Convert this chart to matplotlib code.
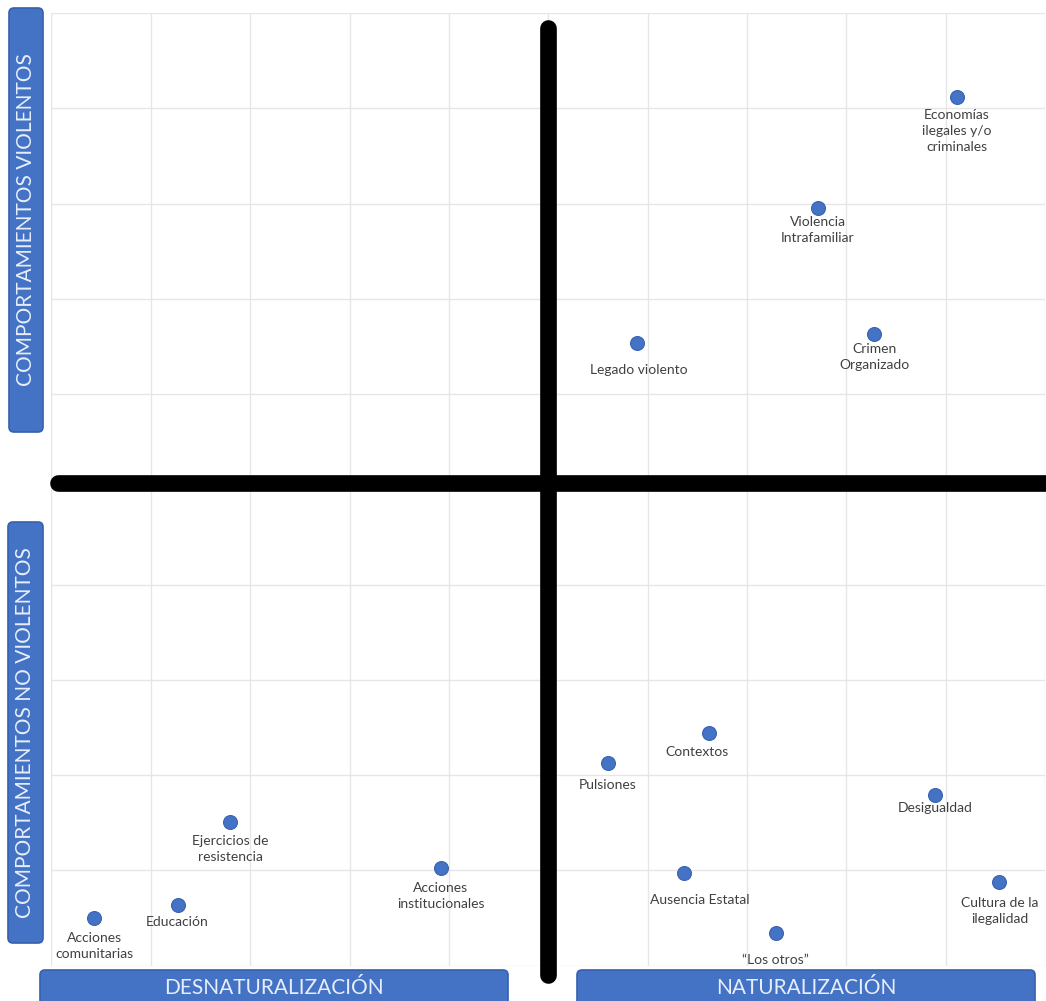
import matplotlib
matplotlib.use("Agg")
import matplotlib.pyplot as plt
from matplotlib.patches import FancyBboxPatch

# ---------------- data ----------------
labels = [
    "Economías\nilegales y/o\ncriminales",
    "Violencia\nIntrafamiliar",
    "Crimen\nOrganizado",
    "Legado violento",
    "Contextos",
    "Pulsiones",
    "Desigualdad",
    "Ausencia Estatal",
    "Cultura de la\nilegalidad",
    "\u201cLos otros\u201d",
    "Ejercicios de\nresistencia",
    "Acciones\ninstitucionales",
    "Educación",
    "Acciones\ncomunitarias",
]
x_values = [9.11, 7.71, 8.28, 5.89, 6.62, 5.60, 8.89, 6.37, 9.54, 7.29, 1.80, 3.92, 1.27, 0.43]
y_values = [9.12, 7.95, 6.63, 6.54, 2.44, 2.13, 1.79, 0.97, 0.88, 0.34, 1.51, 1.02, 0.64, 0.50]

axis_titles_y = ["COMPORTAMIENTOS VIOLENTOS", "COMPORTAMIENTOS NO VIOLENTOS"]
axis_titles_x = ["DESNATURALIZACIÓN", "NATURALIZACIÓN"]

# ---------------- layout / style ----------------
FONT = ["Lato", "DejaVu Sans"]
plt.rcParams["font.family"] = FONT

W, H = 1046, 1001
fig = plt.figure(figsize=(W / 100, H / 100), dpi=100)
fig.patch.set_facecolor("white")

ax = fig.add_axes([51.4 / W, (H - 965.5) / H, 993.7 / W, 952.5 / H])
ax.set_xlim(0, 10)
ax.set_ylim(0, 10)
ax.set_xticks(range(11))
ax.set_yticks(range(11))
ax.tick_params(length=0, labelbottom=False, labelleft=False)
ax.grid(True, color="#E6E6E6", lw=1.0)
ax.set_axisbelow(True)
for s in ax.spines.values():
    s.set_visible(False)

# quadrant dividers
MID = 5
ax.plot([MID, MID], [-0.10, 9.84], color="black", lw=12, solid_capstyle="round",
        clip_on=False, zorder=3)
ax.plot([0.07, 10.3], [MID + 0.07, MID + 0.07], color="black", lw=12,
        solid_capstyle="round", clip_on=False, zorder=3)

ax.scatter(x_values, y_values, s=100, color="#4472C4", edgecolor="#3A63B0",
           linewidth=0.8, zorder=4)

# label offsets in pixels (dx, dy to first text line centre, downward positive)
LABEL_OFFSETS = [(0, 20), (0, 16), (0, 17), (2, 29), (-12, 21), (0, 24), (0, 15),
                 (15, 29), (0, 23), (0, 29), (0, 21), (0, 22), (0, 19), (0, 22)]
for lab, xv, yv, (dx, dy) in zip(labels, x_values, y_values, LABEL_OFFSETS):
    ax.annotate(lab, (xv, yv), xytext=(dx, -(dy - 8)), textcoords="offset pixels",
                ha="center", va="top", fontsize=10, color="#404040",
                linespacing=1.4, zorder=5)

# overlay in pixel coordinates for the title boxes
ov = fig.add_axes([0, 0, 1, 1], zorder=10)
ov.set_xlim(0, W)
ov.set_ylim(H, 0)
ov.axis("off")
ov.patch.set_alpha(0)

BOX_FC = "#4472C4"
BOX_EC = "#3660AE"
TXT_C = "#E6EEFA"


def title_box(x0, y0, x1, y1, text, rotation):
    p = FancyBboxPatch((x0, y0), x1 - x0, y1 - y0,
                       boxstyle="round,pad=0,rounding_size=5",
                       fc=BOX_FC, ec=BOX_EC, lw=1.2, clip_on=False)
    ov.add_patch(p)
    if text:
        ov.text((x0 + x1) / 2, (y0 + y1) / 2, text, rotation=rotation,
                ha="center", va="center", color=TXT_C, fontsize=15)


title_box(9, 8, 43, 432, axis_titles_y[0], 90)
title_box(8, 522, 43, 943, axis_titles_y[1], 90)
title_box(40, 970, 508, 1012, "", 0)
title_box(577, 970, 1035, 1012, "", 0)
ov.text((40 + 508) / 2, 988, axis_titles_x[0], ha="center", va="center",
        color=TXT_C, fontsize=15)
ov.text((577 + 1035) / 2, 988, axis_titles_x[1], ha="center", va="center",
        color=TXT_C, fontsize=15)

fig.savefig("out.png", dpi=100)
